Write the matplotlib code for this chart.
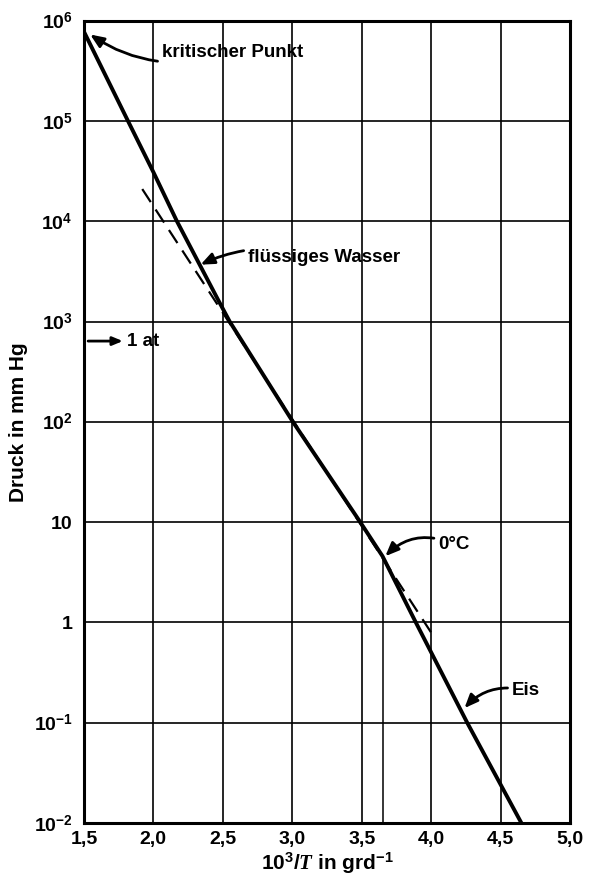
import matplotlib
matplotlib.use("Agg")
import matplotlib.pyplot as plt
import numpy as np

plt.rcParams['font.family'] = ['Liberation Sans', 'DejaVu Sans']
plt.rcParams['font.weight'] = 'bold'
plt.rcParams['axes.labelweight'] = 'bold'
plt.rcParams['mathtext.fontset'] = 'custom'
plt.rcParams['mathtext.rm'] = 'Liberation Sans:bold'
plt.rcParams['mathtext.it'] = 'Liberation Serif:italic:bold'
plt.rcParams['mathtext.bf'] = 'Liberation Sans:bold'

# Data
x_solid = [1.50, 1.81, 2.00, 2.17, 2.465, 2.55, 3.005, 3.49, 3.65, 3.89, 4.26, 4.65]
p_solid = [7.8e5, 1.05e5, 3.1e4, 1.0e4, 1.66e3, 1.0e3, 1.0e2, 10.0, 4.58, 1.0, 0.1, 0.01]
x_dashed = [1.92, 4.02]
p_dashed = [2.1e4, 0.72]
x_triple = 3.65
p_triple = 4.58
p_1at = 640.0

x_ticks = [1.5, 2.0, 2.5, 3.0, 3.5, 4.0, 4.5, 5.0]
x_ticklabels = ['1,5', '2,0', '2,5', '3,0', '3,5', '4,0', '4,5', '5,0']
y_ticks = [1e-2, 1e-1, 1, 10, 1e2, 1e3, 1e4, 1e5, 1e6]
y_ticklabels = [r'$10^{-2}$', r'$10^{-1}$', '1', '10', r'$10^{2}$', r'$10^{3}$',
                r'$10^{4}$', r'$10^{5}$', r'$10^{6}$']

fig = plt.figure(figsize=(5.91, 8.85), dpi=100)
ax = fig.add_axes([0.142, 0.070, 0.8225, 0.9065])
ax.set_yscale('log')
ax.set_xlim(1.5, 5.0)
ax.set_ylim(1e-2, 1e6)

ax.set_xticks(x_ticks)
ax.set_xticklabels(x_ticklabels)
ax.set_yticks(y_ticks)
ax.set_yticklabels(y_ticklabels)
ax.yaxis.set_minor_locator(matplotlib.ticker.NullLocator())
ax.tick_params(length=0, labelsize=14)
ax.tick_params(axis='x', pad=6)
ax.tick_params(axis='y', pad=8)
ax.grid(True, color='black', linewidth=1.2)
ax.set_axisbelow(True)
for s in ax.spines.values():
    s.set_linewidth(2.2)

ax.plot(x_solid, p_solid, color='black', linewidth=2.8, zorder=4,
        solid_capstyle='butt', solid_joinstyle='round')
ax.plot(x_dashed, p_dashed, color='black', linewidth=1.6, dashes=(7, 4), zorder=3)
ax.plot([x_triple, x_triple], [1e-2, p_triple], color='black', linewidth=1.1, zorder=2)

ax.set_xlabel(r'10$^3$/$T$ in grd$^{-1}$', fontsize=15, fontweight='bold', labelpad=2)
ax.set_ylabel('Druck in mm Hg', fontsize=15, fontweight='bold', labelpad=4)

arrow = dict(arrowstyle='-|>,head_length=0.6,head_width=0.25', color='black', lw=2.0,
             shrinkA=1, shrinkB=0)

fs = 13.5
ax.annotate('kritischer Punkt', xy=(1.545, 7.3e5), xytext=(2.06, 4.8e5),
            fontsize=fs, va='center', ha='left',
            arrowprops=dict(arrow, connectionstyle='arc3,rad=-0.25'))
ax.annotate('flüssiges Wasser', xy=(2.34, 3.7e3), xytext=(2.68, 4.4e3),
            fontsize=fs, va='center', ha='left',
            arrowprops=dict(arrow, connectionstyle='arc3,rad=0.2'))
ax.annotate('0°C', xy=(x_triple + 0.02, p_triple), xytext=(4.05, 6.0),
            fontsize=fs, va='center', ha='left',
            arrowprops=dict(arrow, connectionstyle='arc3,rad=0.35'))
ax.annotate('Eis', xy=(4.24, 0.14), xytext=(4.58, 0.21),
            fontsize=fs, va='center', ha='left',
            arrowprops=dict(arrow, connectionstyle='arc3,rad=0.3'))
ax.annotate('1 at', xy=(1.77, p_1at), xytext=(1.81, p_1at),
            fontsize=fs, va='center', ha='left')
ax.annotate('', xy=(1.78, p_1at), xytext=(1.52, p_1at),
            arrowprops=dict(arrow, connectionstyle='arc3,rad=0'))

fig.savefig('out.png', dpi=100)
